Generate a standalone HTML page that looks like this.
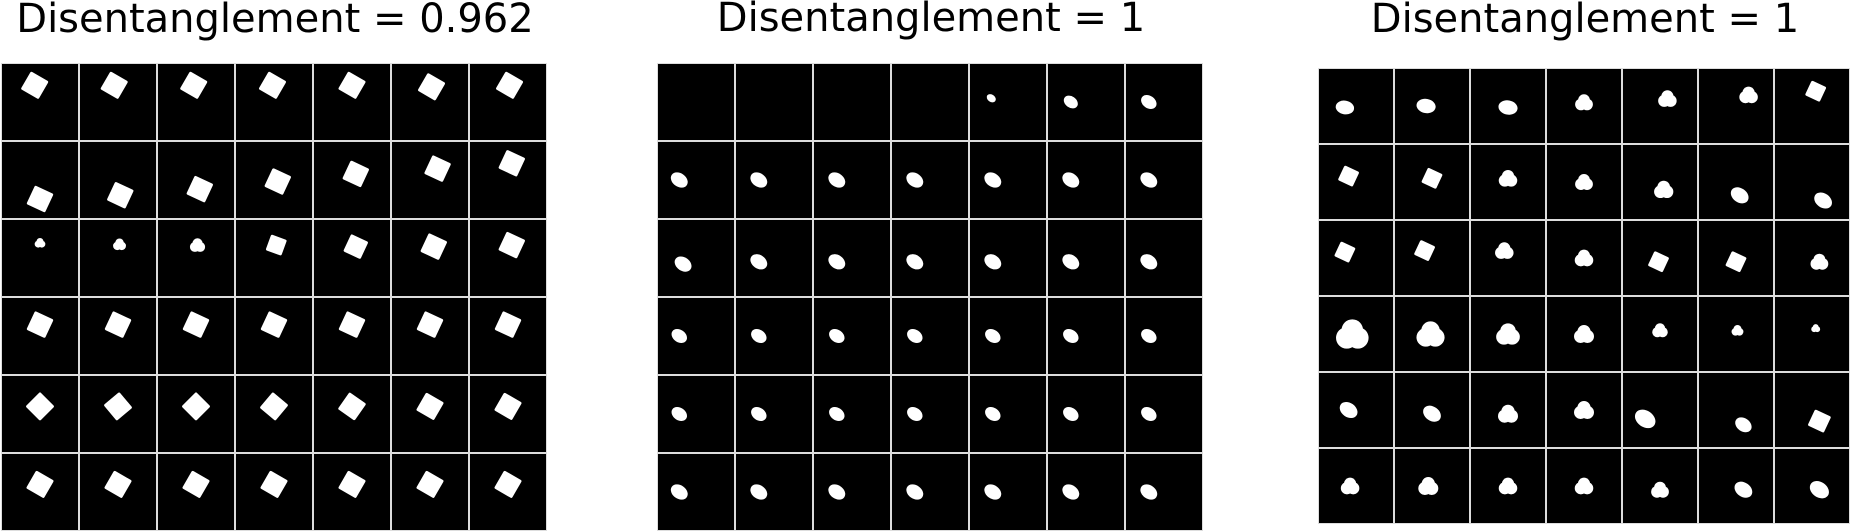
<!DOCTYPE html>
<html><head><meta charset="utf-8"><style>
body{margin:0;background:#fff;width:1860px;height:532px;overflow:hidden}
svg{display:block}
</style></head><body>
<svg id="fig" width="1860" height="532" xmlns="http://www.w3.org/2000/svg">
<text x="275" y="32" font-family="DejaVu Sans, Liberation Sans, sans-serif" font-size="40" text-anchor="middle">Disentanglement = 0.962</text>
<text x="931" y="31" font-family="DejaVu Sans, Liberation Sans, sans-serif" font-size="40" text-anchor="middle">Disentanglement = 1</text>
<text x="1585" y="32" font-family="DejaVu Sans, Liberation Sans, sans-serif" font-size="40" text-anchor="middle">Disentanglement = 1</text>
</svg>
<script>
// shape codes: s=square, e=ellipse, h=trefoil blob, n=none
const p1Shape=["sssssss","sssssss","hhhssss","sssssss","sssssss","sssssss"];
const p1X=[[.43,.45,.47,.48,.5,.52,.52],[.5,.53,.55,.55,.55,.6,.55],[.5,.52,.52,.53,.55,.55,.55],[.5,.5,.5,.5,.5,.5,.5],[.5,.5,.5,.5,.5,.5,.5],[.5,.5,.5,.5,.5,.5,.5]];
const p1Y=[[.28,.28,.28,.28,.28,.3,.28],[.75,.7,.62,.52,.42,.35,.28],[.3,.32,.33,.33,.35,.35,.33],[.35,.35,.35,.35,.35,.35,.35],[.4,.4,.4,.4,.4,.4,.4],[.4,.4,.4,.4,.4,.4,.4]];
const p1Size=[[.27,.27,.27,.27,.27,.27,.27],[.27,.27,.27,.27,.27,.27,.27],[.14,.17,.2,.22,.25,.27,.27],[.27,.27,.27,.27,.27,.27,.27],[.27,.27,.27,.27,.27,.27,.27],[.27,.27,.27,.27,.27,.27,.27]];
const p1Angle=[[30,30,30,30,30,30,30],[25,25,25,25,25,25,25],[0,0,0,20,25,25,25],[25,25,25,25,25,25,25],[45,50,45,40,35,30,30],[30,30,30,30,30,30,30]];
const p2Shape=["nnnneee","eeeeeee","eeeeeee","eeeeeee","eeeeeee","eeeeeee"];
const p2X=[[0,0,0,0,.28,.3,.3],[.28,.3,.3,.3,.3,.3,.3],[.33,.3,.3,.3,.3,.3,.3],[.28,.3,.3,.3,.3,.3,.3],[.28,.3,.3,.3,.3,.3,.3],[.28,.3,.3,.3,.3,.3,.3]];
const p2Y=[[0,0,0,0,.45,.5,.5],[.5,.5,.5,.5,.5,.5,.5],[.58,.55,.55,.55,.55,.55,.55],[.5,.5,.5,.5,.5,.5,.5],[.5,.5,.5,.5,.5,.5,.5],[.5,.5,.5,.5,.5,.5,.5]];
const p2Size=[[0,0,0,0,.13,.2,.22],[.24,.24,.24,.24,.24,.24,.24],[.24,.24,.24,.24,.24,.24,.24],[.22,.22,.22,.22,.22,.22,.22],[.22,.22,.22,.22,.22,.22,.22],[.24,.24,.24,.24,.24,.24,.24]];
const p3Shape=["eeehhhs","sshhhee","sshhssh","hhhhhhh","eehheess".slice(0,2)+"hheess","hhhhhee"];
const p3X=[[.35,.42,.5,.5,.6,.67,.55],[.4,.5,.5,.5,.55,.55,.65],[.35,.4,.45,.5,.48,.5,.6],[.45,.48,.5,.5,.5,.52,.55],[.4,.5,.5,.5,.3,.6,.6],[.42,.45,.5,.5,.5,.6,.6]];
const p3Y=[[.52,.5,.52,.45,.4,.35,.3],[.42,.45,.45,.5,.6,.68,.75],[.42,.4,.4,.5,.55,.55,.55],[.5,.5,.5,.5,.45,.45,.42],[.5,.55,.55,.5,.62,.7,.65],[.5,.5,.5,.5,.55,.55,.55]];
const p3Size=[[.25,.26,.26,.24,.25,.25,.22],[.22,.22,.25,.24,.26,.26,.26],[.22,.22,.25,.25,.22,.22,.24],[.44,.38,.32,.27,.21,.16,.12],[.26,.26,.27,.27,.3,.24,.24],[.25,.27,.25,.25,.24,.26,.28]];
const panels=[
 {x:2,y:64,pitch:78,cell:76,shape:p1Shape,px:p1X,py:p1Y,ps:p1Size,pa:p1Angle},
 {x:658,y:64,pitch:78,cell:76,shape:p2Shape,px:p2X,py:p2Y,ps:p2Size,pa:null},
 {x:1319,y:69,pitch:76,cell:74,shape:p3Shape,px:p3X,py:p3Y,ps:p3Size,pa:null}];
const NS="http://www.w3.org/2000/svg",svg=document.getElementById('fig');
function mk(t,a){const e=document.createElementNS(NS,t);for(const k in a)e.setAttribute(k,a[k]);return e;}
panels.forEach((p,pi)=>{
 const g=mk('g',{});
 
 
 g.appendChild(mk('rect',{x:p.x-1,y:p.y-1,width:p.pitch*7,height:p.pitch*6,fill:'#ddd'}));
 for(let r=0;r<6;r++)for(let c=0;c<7;c++){
  const x0=p.x+c*p.pitch,y0=p.y+r*p.pitch,C=p.cell;
  const cell=mk('rect',{x:x0,y:y0,width:C,height:C,fill:'#000'});
  
  
  g.appendChild(cell);
  const t=p.shape[r][c];if(t==='n')continue;
  const cx=x0+p.px[r][c]*C,cy=y0+p.py[r][c]*C,s=p.ps[r][c]*C;
  const ang=p.pa?p.pa[r][c]:(t==='e'?35:25);
  let m;
  if(t==='s'){m=mk('rect',{x:cx-s/2,y:cy-s/2,width:s,height:s,rx:1.5,fill:'#fff',transform:`rotate(${ang} ${cx} ${cy})`});}
  else if(t==='e'){m=mk('ellipse',{cx:cx,cy:cy,rx:s/2,ry:s/2.7,fill:'#fff',transform:`rotate(${pi===2&&r===0?10:ang} ${cx} ${cy})`});}
  else{m=mk('g',{fill:'#fff'});const rr=s*0.33;
   m.appendChild(mk('circle',{cx:cx,cy:cy-s*0.12,r:rr}));
   m.appendChild(mk('circle',{cx:cx-s*0.17,cy:cy+s*0.12,r:rr}));
   m.appendChild(mk('circle',{cx:cx+s*0.17,cy:cy+s*0.12,r:rr}));}
  
  
  g.appendChild(m);
 }
 svg.appendChild(g);
});
</script>
</body></html>
